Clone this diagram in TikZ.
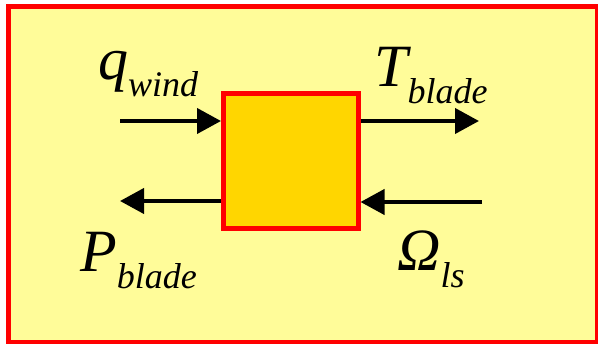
\documentclass[tikz,border=0pt]{standalone}
\usepackage{fontspec}
\setmainfont{Liberation Serif}
\usetikzlibrary{arrows.meta}
\definecolor{paleyellow}{HTML}{FFFC99}
\definecolor{gold}{HTML}{FFD600}
\definecolor{boxred}{HTML}{FF0000}
\tikzset{
  frame/.style={draw=boxred,line width=5pt,fill=paleyellow},
  block/.style={draw=boxred,line width=5pt,fill=gold,minimum width=134.5pt,minimum height=135pt,inner sep=0pt},
  flow/.style={line width=4pt,-{Triangle[length=24pt,width=25pt]}},
  lbl/.style={anchor=base west,inner sep=0pt,font=\fontsize{60}{60}\selectfont\itshape},
}
\newcommand{\subtxt}[1]{{\fontsize{36}{36}\selectfont\raisebox{-17pt}{#1}}}
\begin{document}
\begin{tikzpicture}[x=1pt,y=-1pt]
\useasboundingbox (0,0) rectangle (598,344);
\fill[white] (0,0) rectangle (598,344);
\draw[frame] (8.5,6.5) rectangle (597.5,342.5);
\node[block] (sys) at (290.75,161) {};
\coordinate (qin) at (120,121);
\coordinate (tout) at (479,121);
\coordinate (pout) at (120,201);
\coordinate (win) at (482,202);
\draw[flow] (qin) -- (qin -| sys.west);
\draw[flow] (sys.east |- tout) -- (tout);
\draw[flow] (sys.west |- pout) -- (pout);
\draw[flow] (win) -- (win -| sys.east);
\node[lbl] (q) at (98,80) {q\subtxt{wind}};
\node[lbl] (T) at (374,87) {T\subtxt{blade}};
\node[lbl] (P) at (80,272) {P\subtxt{blade}};
\node[lbl] (W) at (397,271) {Ω\subtxt{ls}};
\end{tikzpicture}
\end{document}
